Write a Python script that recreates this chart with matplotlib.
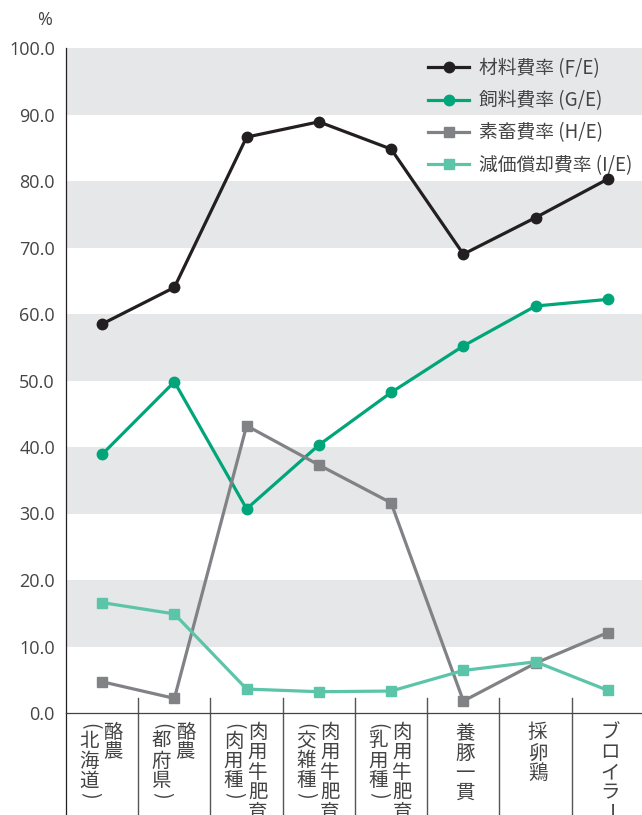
import matplotlib
matplotlib.use('Agg')
import matplotlib.pyplot as plt
from matplotlib.lines import Line2D
from matplotlib.transforms import blended_transform_factory

plt.rcParams['font.family'] = ['Noto Sans CJK JP', 'DejaVu Sans']

# --- data ---
categories = [('酪農', '北海道'), ('酪農', '都府県'),
              ('肉用牛肥育', '肉用種'), ('肉用牛肥育', '交雑種'), ('肉用牛肥育', '乳用種'),
              ('養豚一貫', None), ('採卵鶏', None), ('ブロイラー', None)]
material = [58.5, 64.0, 86.6, 88.9, 84.8, 69.0, 74.5, 80.3]     # F/E
feed = [38.9, 49.8, 30.7, 40.3, 48.2, 55.2, 61.2, 62.2]          # G/E
stock = [4.7, 2.2, 43.2, 37.3, 31.6, 1.8, 7.5, 12.1]             # H/E
deprec = [16.6, 14.9, 3.6, 3.2, 3.3, 6.4, 7.7, 3.4]              # I/E
series_names = ['材料費率 (F/E)', '飼料費率 (G/E)', '素畜費率 (H/E)', '減価償却費率 (I/E)']
yticks = [0, 10, 20, 30, 40, 50, 60, 70, 80, 90, 100]

W, H = 642, 815
fig = plt.figure(figsize=(W / 100, H / 100), dpi=100)
ax = fig.add_axes([66 / W, (H - 713) / H, (644 - 66) / W, 665 / H])
ax.set_xlim(-0.5, len(categories) - 0.5)
ax.set_ylim(0, 100)

# alternating bands
for lo in range(10, 100, 20):
    ax.axhspan(lo, lo + 10, color='#e6e7e8', lw=0, zorder=0)

x = list(range(len(categories)))
styles = [
    (material, '#231f20', 'o'),
    (feed, '#00a57a', 'o'),
    (stock, '#808285', 's'),
    (deprec, '#5cc4a8', 's'),
]
handles = []
for (vals, c, m), name in zip(styles, series_names):
    ms = 7.5 if m == 'o' else 7
    ax.plot(x, vals, color=c, lw=2.3, marker=m, ms=ms, zorder=3, clip_on=False)
    handles.append(Line2D([], [], color=c, lw=2.3, marker=m, ms=ms, label=name))

for s in ['top', 'right']:
    ax.spines[s].set_visible(False)
ax.spines['left'].set_color('#231f20')
ax.spines['left'].set_linewidth(0.9)
ax.spines['bottom'].set_color('#444444')
ax.spines['bottom'].set_linewidth(0.9)

ax.set_yticks(yticks)
ax.set_yticklabels([f'{v:.1f}' for v in yticks], fontsize=13, color='#444444',
                   family=['Open Sans', 'DejaVu Sans'])
ax.tick_params(axis='y', length=0, pad=8)
ax.set_xticks([])

# left axis and separators continue below the plot
bt = blended_transform_factory(ax.transData, ax.transAxes)
ext = -(H - 713) / 665
ax.plot([0, 0], [0, ext], transform=ax.transAxes, color='#231f20', lw=0.9, clip_on=False)
for i in range(len(categories) - 1):
    ax.plot([i + 0.5, i + 0.5], [15 / 665, ext], transform=bt, color='#555555', lw=1,
            clip_on=False)

fig.text(45 / W, 1 - 20 / H, '%', ha='center', va='center', fontsize=13, color='#444444',
         family=['Open Sans', 'DejaVu Sans'])

# vertical category labels
inv = fig.transFigure.inverted()


def put(xp, ytop, ch, rot=0):
    fx, fy = inv.transform((xp, H - ytop))
    fig.text(fx, fy, ch, ha='center', va='center', fontsize=14, color='#444444',
             rotation=rot, rotation_mode='anchor')


step = 20
for i, (main, sub) in enumerate(categories):
    cx = ax.transData.transform((i, 0))[0]
    if sub is None:
        for k, ch in enumerate(main):
            rot = -90 if ch == 'ー' else 0
            put(cx + 2, 733 + k * step, ch, rot)
    else:
        for k, ch in enumerate(main):
            put(cx + 11, 732 + k * step, ch)
        put(cx - 13, 726, '(', -90)
        for k, ch in enumerate(sub):
            put(cx - 13, 741 + k * step, ch)
        put(cx - 13, 741 + (len(sub) - 1) * step + 14, ')', -90)

leg = ax.legend(handles=handles, loc='upper left', bbox_to_anchor=(428 / W, 1 - 58 / H),
                bbox_transform=fig.transFigure, frameon=False, borderpad=0, borderaxespad=0,
                handlelength=2.2, handletextpad=0.5, labelspacing=0.6, fontsize=13.5)
for t in leg.get_texts():
    t.set_color('#444444')

fig.savefig('out.png', dpi=100)
